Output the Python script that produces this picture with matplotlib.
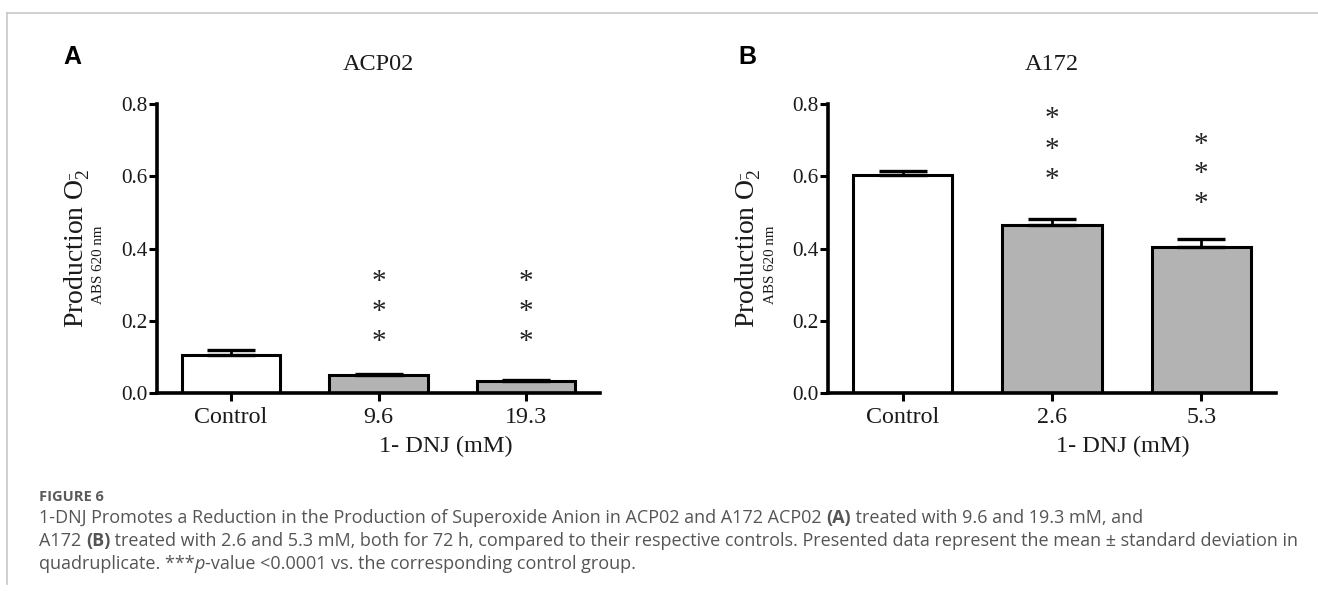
import matplotlib
matplotlib.use("Agg")
import matplotlib.pyplot as plt
import numpy as np

# ---------------- data ----------------
cats_a = ["Control", "9.6", "19.3"]
means_a = [0.105, 0.049, 0.032]
sd_a = [0.014, 0.004, 0.003]
stars_a = [None, [0.142, 0.224, 0.307], [0.142, 0.224, 0.307]]

cats_b = ["Control", "2.6", "5.3"]
means_b = [0.603, 0.465, 0.405]
sd_b = [0.012, 0.016, 0.020]
stars_b = [None, [0.590, 0.673, 0.758], [0.523, 0.606, 0.686]]

yticks = [0.0, 0.2, 0.4, 0.6, 0.8]
bar_colors = ["white", "#b3b3b3", "#b3b3b3"]

titles = ["ACP02", "A172"]
panel_letters = ["A", "B"]
xlabel = "1- DNJ (mM)"

W, H = 1318, 591
fig = plt.figure(figsize=(W / 100, H / 100), dpi=100)
plt.rcParams["mathtext.fontset"] = "custom"
plt.rcParams["mathtext.rm"] = "Liberation Serif"
plt.rcParams["mathtext.it"] = "Liberation Serif:italic"
SERIF = "Liberation Serif"
TXT = "#1a1a1a"


def fx(x):
    return x / W


def fy(y):
    return 1 - y / H


def make_panel(left, right, top, bottom, cats, means, sds, stars, title,
               letter, ylab_x, abs_x, xlab_x):
    ax = fig.add_axes([fx(left), fy(bottom), fx(right - left), (bottom - top) / H])
    x = np.arange(len(cats))
    ax.bar(x, means, width=0.667, color=bar_colors, edgecolor="black",
           linewidth=2.2, zorder=2)
    ax.errorbar(x, means, yerr=[np.zeros(len(sds)), sds], fmt="none",
                ecolor="black", elinewidth=2.0, capsize=17.5, capthick=2.4,
                zorder=3)
    for xi, s in zip(x, stars):
        if s is None:
            continue
        for yy in s:
            ax.text(xi, yy, "*", ha="center", va="center", fontsize=21,
                    family=SERIF, color="#222222")
    ax.set_xlim(-0.5, 2.5)
    ax.set_ylim(0, 0.8)
    ax.set_yticks(yticks)
    ax.set_yticklabels([f"{v:.1f}" for v in yticks])
    ax.set_xticks(x)
    ax.set_xticklabels(cats)
    for sp in ["top", "right"]:
        ax.spines[sp].set_visible(False)
    for sp in ["left", "bottom"]:
        ax.spines[sp].set_linewidth(2.6)
    ax.tick_params(axis="both", direction="out", length=6, width=2.2)
    ax.tick_params(axis="y", pad=1, labelsize=15.3)
    ax.tick_params(axis="x", pad=4, labelsize=17.3)
    for lab in ax.get_xticklabels() + ax.get_yticklabels():
        lab.set_family(SERIF)
        lab.set_color(TXT)
    ax.patch.set_alpha(0)
    # title
    fig.text(fx((left + right) / 2), fy(65), title, ha="center", va="center",
             fontsize=17.5, family=SERIF, color=TXT)
    # panel letter
    fig.text(fx(letter[1]), fy(57), letter[0], ha="left", va="center",
             fontsize=18, fontweight="bold", family="Liberation Sans")
    # y labels
    fig.text(fx(ylab_x), fy(248), r"Production O$_2^{\,\bar{}}$", rotation=90,
             ha="center", va="center", fontsize=20, family=SERIF, color=TXT)
    fig.text(fx(abs_x), fy(265), "ABS 620 nm", rotation=90, ha="center",
             va="center", fontsize=10.8, family=SERIF, color=TXT)
    # x label
    fig.text(fx(xlab_x), fy(446), xlabel, ha="center", va="center",
             fontsize=17.5, family=SERIF, color=TXT)
    return ax


make_panel(157, 600, 104, 393, cats_a, means_a, sd_a, stars_a, titles[0],
           (panel_letters[0], 63), 77, 99, 446)
make_panel(828, 1276, 104, 393, cats_b, means_b, sd_b, stars_b, titles[1],
           (panel_letters[1], 738), 748, 770, 1123)

# frame lines
fig.add_artist(plt.Line2D([fx(7), 1], [fy(13), fy(13)], color="#c8c8c8", lw=1.2))
fig.add_artist(plt.Line2D([fx(7), fx(7)], [fy(13), fy(584)], color="#c8c8c8", lw=1.2))

# caption
CAP = "Open Sans"
cap_color = "#555555"
cap_size = 13.0
fig.text(fx(39), fy(497), "FIGURE 6", ha="left", va="center", fontsize=10.5,
         family=CAP, fontweight="bold", color="#5a5a5a")

lines = [
    [("1-DNJ Promotes a Reduction in the Production of Superoxide Anion in ACP02 and A172 ACP02 ", {}),
     ("(A)", {"fontweight": "bold"}),
     (" treated with 9.6 and 19.3 mM, and", {})],
    [("A172 ", {}), ("(B)", {"fontweight": "bold"}),
     (" treated with 2.6 and 5.3 mM, both for 72 h, compared to their respective controls. Presented data represent the mean \u00b1 standard deviation in", {})],
    [("quadruplicate. ***", {}), ("p", {"style": "italic"}),
     ("-value <0.0001 vs. the corresponding control group.", {})],
]
line_y = [518, 541, 564]

fig.canvas.draw()
renderer = fig.canvas.get_renderer()


def width_of(s, props):
    t1 = fig.text(0, 0, "|" + s + "|", fontsize=cap_size, family=CAP, **props)
    t2 = fig.text(0, 0, "||", fontsize=cap_size, family=CAP, **props)
    w = t1.get_window_extent(renderer).width - t2.get_window_extent(renderer).width
    t1.remove()
    t2.remove()
    return w


for segs, yy in zip(lines, line_y):
    xpos = 39
    for s, props in segs:
        fig.text(fx(xpos), fy(yy), s, ha="left", va="center", fontsize=cap_size,
                 family=CAP, color=cap_color, **props)
        xpos += width_of(s, props)

fig.savefig("out.png", dpi=100)
